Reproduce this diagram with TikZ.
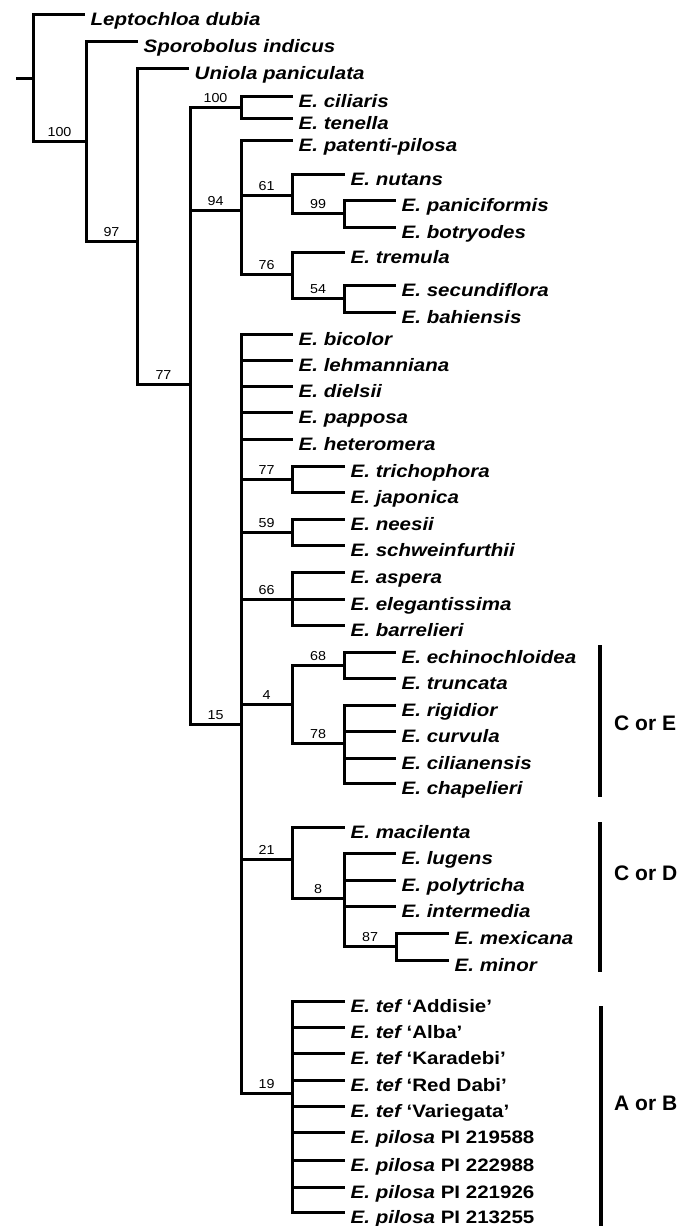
\documentclass[tikz,border=0pt]{standalone}
\usepackage{fontspec}
\newfontfamily\taxfont[FakeStretch=1.14]{Liberation Sans}
\newfontfamily\numfont[FakeStretch=1.1]{Liberation Sans}
\newfontfamily\grpfont{Liberation Sans}
% a terminal taxon: tip coordinate t<name> and its label <name>
\newcommand\taxleaf[4]{%
  \coordinate (t#1) at (#2,#3);
  \node[taxon] (#1) at ({#2+7.5},{#3+11.5}) {#4};}
% bootstrap value centred over a branch
\newcommand\bsval[4]{\node[bsnum] (#1) at (#2,{#3-5}) {#4};}
\begin{document}
\begin{tikzpicture}[x=1pt,y=-1pt,
  tree/.style={line width=3pt, line cap=rect, line join=miter},
  bar/.style={line width=4.5pt},
  taxon/.style={anchor=base west, inner sep=0pt,
    font=\taxfont\fontsize{18}{21}\selectfont\bfseries\itshape},
  bsnum/.style={anchor=base, inner sep=0pt,
    font=\numfont\fontsize{13}{15}\selectfont},
  grp/.style={anchor=west, inner sep=0pt,
    font=\grpfont\fontsize{21}{24}\selectfont\bfseries}]
\useasboundingbox (0,0) rectangle (689,1226);

% internal nodes
\coordinate (base) at (17,78);
\coordinate (root) at (33,78);
\coordinate (nA) at (86,141);
\coordinate (nB) at (137,241);
\coordinate (nC) at (190,384);
\coordinate (nD) at (241,107);
\coordinate (nE) at (241,210);
\coordinate (nG) at (292,195);
\coordinate (nI) at (344,213);
\coordinate (nH) at (292,274);
\coordinate (nJ) at (344,298);
\coordinate (nF) at (241,724);
\coordinate (nK) at (292,479);
\coordinate (nL) at (292,532);
\coordinate (nM) at (292,599);
\coordinate (nN) at (292,704);
\coordinate (nQ) at (344,665);
\coordinate (nR) at (344,743);
\coordinate (nO) at (292,859);
\coordinate (nS) at (344,898);
\coordinate (nT) at (396,946);
\coordinate (nP) at (292,1093);

% taxa
\taxleaf{Ld}{83}{14}{Leptochloa dubia}
\taxleaf{Si}{136}{41}{Sporobolus indicus}
\taxleaf{Up}{187}{68}{Uniola paniculata}
\taxleaf{Eci}{291}{96}{E. ciliaris}
\taxleaf{Ete}{291}{118}{E. tenella}
\taxleaf{Epp}{291}{140}{E. patenti-pilosa}
\taxleaf{Enu}{343}{174}{E. nutans}
\taxleaf{Epa}{394}{200}{E. paniciformis}
\taxleaf{Ebo}{394}{227}{E. botryodes}
\taxleaf{Etr}{343}{252}{E. tremula}
\taxleaf{Ese}{394}{285}{E. secundiflora}
\taxleaf{Eba}{394}{312}{E. bahiensis}
\taxleaf{Ebi}{291}{334}{E. bicolor}
\taxleaf{Ele}{291}{360}{E. lehmanniana}
\taxleaf{Edi}{291}{386}{E. dielsii}
\taxleaf{Epo}{291}{412}{E. papposa}
\taxleaf{Ehe}{291}{439}{E. heteromera}
\taxleaf{Etc}{343}{466}{E. trichophora}
\taxleaf{Eja}{343}{492}{E. japonica}
\taxleaf{Ene}{343}{519}{E. neesii}
\taxleaf{Esc}{343}{545}{E. schweinfurthii}
\taxleaf{Eas}{343}{572}{E. aspera}
\taxleaf{Eel}{343}{599}{E. elegantissima}
\taxleaf{Ebr}{343}{625}{E. barrelieri}
\taxleaf{Eec}{394}{652}{E. echinochloidea}
\taxleaf{Etu}{394}{678}{E. truncata}
\taxleaf{Eri}{394}{705}{E. rigidior}
\taxleaf{Ecu}{394}{731}{E. curvula}
\taxleaf{Ecl}{394}{758}{E. cilianensis}
\taxleaf{Ech}{394}{783}{E. chapelieri}
\taxleaf{Ema}{343}{827}{E. macilenta}
\taxleaf{Elu}{394}{853}{E. lugens}
\taxleaf{Epy}{394}{880}{E. polytricha}
\taxleaf{Ein}{394}{906}{E. intermedia}
\taxleaf{Emx}{447}{933}{E. mexicana}
\taxleaf{Emi}{447}{960}{E. minor}
\taxleaf{Tad}{343}{1001}{E. tef {\upshape ‘Addisie’}}
\taxleaf{Tal}{343}{1027}{E. tef {\upshape ‘Alba’}}
\taxleaf{Tka}{343}{1053}{E. tef {\upshape ‘Karadebi’}}
\taxleaf{Trd}{343}{1080}{E. tef {\upshape ‘Red Dabi’}}
\taxleaf{Tva}{343}{1106}{E. tef {\upshape ‘Variegata’}}
\taxleaf{Pa}{343}{1132}{E. pilosa {\upshape PI 219588}}
\taxleaf{Pb}{343}{1160}{E. pilosa {\upshape PI 222988}}
\taxleaf{Pc}{343}{1187}{E. pilosa {\upshape PI 221926}}
\taxleaf{Pd}{343}{1212}{E. pilosa {\upshape PI 213255}}

% branches
\draw[tree] (base) -- (root);
\draw[tree] (root) |- (tLd);  \draw[tree] (root) |- (nA);
\draw[tree] (nA) |- (tSi);    \draw[tree] (nA) |- (nB);
\draw[tree] (nB) |- (tUp);    \draw[tree] (nB) |- (nC);
\draw[tree] (nC) |- (nD);     \draw[tree] (nC) |- (nE);  \draw[tree] (nC) |- (nF);
\draw[tree] (nD) |- (tEci);   \draw[tree] (nD) |- (tEte);
\draw[tree] (nE) |- (tEpp);   \draw[tree] (nE) |- (nG);  \draw[tree] (nE) |- (nH);
\draw[tree] (nG) |- (tEnu);   \draw[tree] (nG) |- (nI);
\draw[tree] (nI) |- (tEpa);   \draw[tree] (nI) |- (tEbo);
\draw[tree] (nH) |- (tEtr);   \draw[tree] (nH) |- (nJ);
\draw[tree] (nJ) |- (tEse);   \draw[tree] (nJ) |- (tEba);
\foreach \c in {tEbi,tEle,tEdi,tEpo,tEhe,nK,nL,nM,nN,nO,nP}
  \draw[tree] (nF) |- (\c);
\draw[tree] (nK) |- (tEtc);   \draw[tree] (nK) |- (tEja);
\draw[tree] (nL) |- (tEne);   \draw[tree] (nL) |- (tEsc);
\foreach \c in {tEas,tEel,tEbr} \draw[tree] (nM) |- (\c);
\draw[tree] (nN) |- (nQ);     \draw[tree] (nN) |- (nR);
\draw[tree] (nQ) |- (tEec);   \draw[tree] (nQ) |- (tEtu);
\foreach \c in {tEri,tEcu,tEcl,tEch} \draw[tree] (nR) |- (\c);
\draw[tree] (nO) |- (tEma);   \draw[tree] (nO) |- (nS);
\foreach \c in {tElu,tEpy,tEin,nT} \draw[tree] (nS) |- (\c);
\draw[tree] (nT) |- (tEmx);   \draw[tree] (nT) |- (tEmi);
\foreach \c in {tTad,tTal,tTka,tTrd,tTva,tPa,tPb,tPc,tPd}
  \draw[tree] (nP) |- (\c);

% bootstrap support
\bsval{bA}{59.5}{141}{100}
\bsval{bB}{111.5}{241}{97}
\bsval{bC}{163.5}{384}{77}
\bsval{bD}{215.5}{107}{100}
\bsval{bE}{215.5}{210}{94}
\bsval{bG}{266.5}{195}{61}
\bsval{bI}{318}{213}{99}
\bsval{bH}{266.5}{274}{76}
\bsval{bJ}{318}{298}{54}
\bsval{bF}{215.5}{724}{15}
\bsval{bK}{266.5}{479}{77}
\bsval{bL}{266.5}{532}{59}
\bsval{bM}{266.5}{599}{66}
\bsval{bN}{266.5}{704}{4}
\bsval{bQ}{318}{665}{68}
\bsval{bR}{318}{743}{78}
\bsval{bO}{266.5}{859}{21}
\bsval{bS}{318}{898}{8}
\bsval{bT}{370}{946}{87}
\bsval{bP}{266.5}{1093}{19}

% group bars
\coordinate (ceT) at (600,645);  \coordinate (ceB) at (600,797);
\coordinate (cdT) at (600,822);  \coordinate (cdB) at (600,972);
\coordinate (abT) at (601,1006); \coordinate (abB) at (601,1226);
\draw[bar] (ceT) -- (ceB);
\draw[bar] (cdT) -- (cdB);
\draw[bar] (abT) -- (abB);
\node[grp] (gCE) at (614,723) {C or E};
\node[grp] (gCD) at (614,873) {C or D};
\node[grp] (gAB) at (614,1103) {A or B};
\end{tikzpicture}
\end{document}
